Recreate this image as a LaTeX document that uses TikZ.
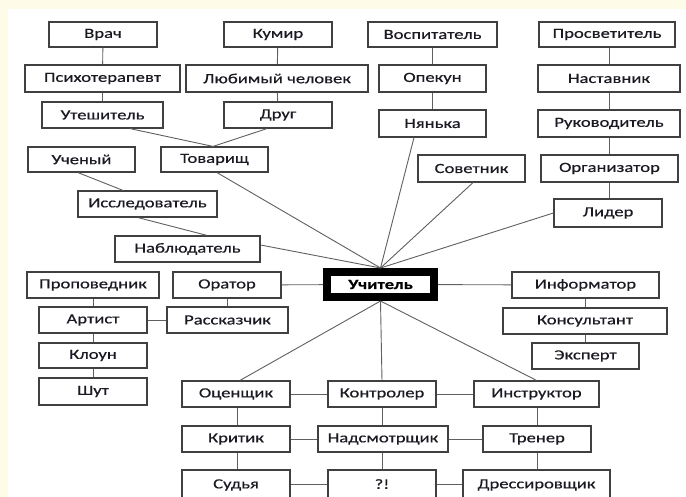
\documentclass[tikz,border=0pt]{standalone}
\usepackage{fontspec}
\setmainfont[FakeStretch=1.33,FakeBold=0.5]{Carlito}
\usetikzlibrary{calc}
\definecolor{cream}{HTML}{FEFCE8}
\definecolor{boxline}{HTML}{404040}
\definecolor{conn}{HTML}{606060}
\definecolor{txt}{HTML}{1A1A22}
\begin{document}
\begin{tikzpicture}[x=1pt,y=-1pt,
  box/.style={draw=boxline,line width=1.2pt,fill=white,inner sep=0pt,minimum height=26pt,
    text=txt,font=\fontsize{14}{16}\selectfont},
  mainbox/.style={draw=black,line width=8pt,fill=white,inner sep=0pt,text=black,
    font=\fontsize{14}{16}\selectfont\bfseries},
  cn/.style={draw=conn,line width=0.9pt}]
\useasboundingbox (0,0) rectangle (686,497);
\clip (0,0) rectangle (686,497);
\fill[cream] (0,0) rectangle (686,497);
\fill[white] (8,9) rectangle (690,500);
% top-left group
\node[box,minimum width=108pt,minimum height=25pt] (vrach) at (103,34.5) {Врач};
\node[box,minimum width=108pt,minimum height=25pt] (kumir) at (278,34.5) {Кумир};
\node[box,minimum width=155pt,minimum height=27pt] (psih) at (102.5,78.5) {Психотерапевт};
\node[box,minimum width=182pt,minimum height=27pt] (lyub) at (277,78.5) {Любимый человек};
\node[box,minimum width=121pt] (utesh) at (102.5,115) {Утешитель};
\node[box,minimum width=108pt] (drug) at (278,115) {Друг};
\node[box,minimum width=107pt,minimum height=25pt] (uchen) at (81.5,159.5) {Ученый};
\node[box,minimum width=107pt,minimum height=25pt] (tovar) at (214.5,159.5) {Товарищ};
\node[box,minimum width=139pt] (issled) at (147.5,204) {Исследователь};
\node[box,minimum width=145pt] (nabl) at (187.5,249) {Наблюдатель};
% top-right group
\node[box,minimum width=129pt,minimum height=25pt] (vospit) at (432.5,34.5) {Воспитатель};
\node[box,minimum width=136pt,minimum height=25pt] (prosv) at (607,34.5) {Просветитель};
\node[box,minimum width=107pt,minimum height=27pt] (opek) at (432.5,78.5) {Опекун};
\node[box,minimum width=142pt,minimum height=27pt] (nastav) at (609,78.5) {Наставник};
\node[box,minimum width=107pt,minimum height=27pt] (nyan) at (432.5,123.5) {Нянька};
\node[box,minimum width=142pt,minimum height=27pt] (rukov) at (609,123.5) {Руководитель};
\node[box,minimum width=107pt,minimum height=27pt] (sovet) at (471.5,168.5) {Советник};
\node[box,minimum width=137pt,minimum height=27pt] (organ) at (609.5,168.5) {Организатор};
\node[box,minimum width=108pt,minimum height=28pt] (lider) at (608,213) {Лидер};
% centre
\node[mainbox,minimum width=107pt,minimum height=25pt] (uchit) at (380.5,284.5) {Учитель};
% middle-left
\node[box,minimum width=132pt] (propov) at (93,285) {Проповедник};
\node[box,minimum width=108pt] (orator) at (227,285) {Оратор};
\node[box,minimum width=108pt] (artist) at (93,320) {Артист};
\node[box,minimum width=121pt] (rasskaz) at (227.5,320) {Рассказчик};
\node[box,minimum width=108pt,minimum height=25pt] (kloun) at (93,355.5) {Клоун};
\node[box,minimum width=108pt,minimum height=27pt] (shut) at (93,391.5) {Шут};
% middle-right
\node[box,minimum width=147pt] (inform) at (585.5,285) {Информатор};
\node[box,minimum width=164pt] (konsult) at (585,321) {Консультант};
\node[box,minimum width=107pt] (ekspert) at (585.5,356) {Эксперт};
% bottom
\node[box,minimum width=108pt] (ocensh) at (236,394) {Оценщик};
\node[box,minimum width=108pt] (kontr) at (382,394) {Контролер};
\node[box,minimum width=125pt] (instr) at (536.5,394) {Инструктор};
\node[box,minimum width=108pt] (kritik) at (236,439) {Критик};
\node[box,minimum width=130pt] (nadsm) at (383,439) {Надсмотрщик};
\node[box,minimum width=108pt] (trener) at (537,439) {Тренер};
\node[box,minimum width=108pt,minimum height=30pt] (sudya) at (236,485) {\raisebox{2pt}{Судья}};
\node[box,minimum width=108pt,minimum height=30pt] (q) at (382,485) {\raisebox{2pt}{?!}};
\node[box,minimum width=147pt,minimum height=30pt] (dress) at (536.5,485) {\raisebox{2pt}{Дрессировщик}};
% connectors: vertical chains
\draw[cn] (vrach) -- (psih);
\draw[cn] (psih) -- (utesh);
\draw[cn] (kumir) -- (lyub);
\draw[cn] (lyub) -- (drug);
\draw[cn] (vospit) -- (opek);
\draw[cn] (opek) -- (nyan);
\draw[cn] ([xshift=2pt]prosv.south) -- (nastav.north);
\draw[cn] (nastav) -- (rukov);
\draw[cn] (rukov) -- ([xshift=-0.5pt]organ.north);
\draw[cn] ([xshift=-0.5pt]organ.south) -- ([xshift=1pt]lider.north);
\draw[cn] (inform) -- ([xshift=0.5pt]konsult.north);
\draw[cn] ([xshift=0.5pt]konsult.south) -- (ekspert);
\draw[cn] (propov) -- (artist);
\draw[cn] (artist) -- (kloun);
\draw[cn] (kloun) -- (shut);
\draw[cn] (orator) -- ([xshift=-0.5pt]rasskaz.north);
\draw[cn] (artist) -- (rasskaz);
\draw[cn] ([xshift=1pt]ocensh.south) -- ([xshift=1pt]kritik.north);
\draw[cn] ([xshift=1pt]kritik.south) -- ([xshift=1pt]sudya.north);
\draw[cn] (kontr) -- ([xshift=-1pt]nadsm.north);
\draw[cn] ([xshift=-1pt]nadsm.south) -- (q);
\draw[cn] ([xshift=0.5pt]instr.south) -- (trener);
\draw[cn] (trener) -- ([xshift=0.5pt]dress.north);
% horizontal links
\draw[cn] (ocensh) -- (kontr);
\draw[cn] (kontr) -- (instr);
\draw[cn] (kritik) -- (nadsm);
\draw[cn] (nadsm) -- (trener);
\draw[cn] ([yshift=1pt]sudya.east) -- ([yshift=1pt]q.west);
\draw[cn] ([yshift=1pt]q.east) -- ([yshift=1pt]dress.west);
% top-left diagonal links
\draw[cn] ([xshift=27.5pt]utesh.south) -- ([xshift=-1.5pt]tovar.north);
\draw[cn] ([xshift=-11pt]drug.south) -- ([xshift=-1.5pt]tovar.north);
\draw[cn] ([xshift=-3.5pt]uchen.south) -- ([xshift=-24.5pt]issled.north);
\draw[cn] ([xshift=-9.5pt]issled.south) -- ([xshift=19.5pt]nabl.north);
% spokes to the teacher
\draw[cn] ([yshift=4pt]nabl.east) -- (uchit.north);
\draw[cn] ([xshift=2.5pt]tovar.south) -- (uchit.north);
\draw[cn] ([xshift=-18.5pt]nyan.south) -- (uchit.north);
\draw[cn] ([xshift=1.5pt]sovet.south) -- (uchit.north);
\draw[cn] (lider.west) -- (uchit.north);
\draw[cn] (orator) -- (uchit);
\draw[cn] (uchit) -- (inform);
\draw[cn] (uchit.south) -- ([xshift=4pt]ocensh.north);
\draw[cn] (uchit.south) -- (kontr.north);
\draw[cn] (uchit.south) -- (instr.north);
\end{tikzpicture}
\end{document}
